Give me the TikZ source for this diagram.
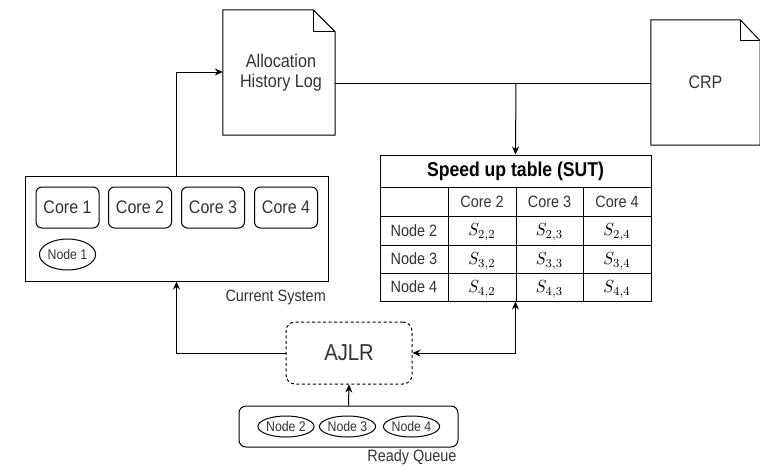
\documentclass[tikz,border=0pt]{standalone}
\usepackage{fontspec}
\setmainfont{Liberation Sans}[FakeStretch=0.88]
\usetikzlibrary{arrows.meta,shapes.geometric}
\definecolor{txt}{HTML}{333333}
\newcommand{\mysm}[1]{\scalebox{1.6}[1.75]{$#1$}}
\tikzset{
  ln/.style={line width=1pt, draw=black},
  arr/.style={ln, -{Stealth[length=8pt,width=7pt]}},
  darr/.style={ln, {Stealth[length=8pt,width=7pt]}-{Stealth[length=8pt,width=7pt]}},
  corebox/.style={ln, rounded corners=6pt, minimum width=63pt, minimum height=41pt, inner sep=0pt, text=txt, font=\fontsize{18.2}{20}\selectfont},
  ell/.style={ln, ellipse, inner sep=0pt, minimum height=21pt, text=txt, font=\fontsize{14}{16}\selectfont},
  lbl/.style={text=txt, inner sep=0pt, font=\fontsize{16.4}{18}\selectfont},
  cell/.style={text=txt, inner sep=0pt, font=\fontsize{16.4}{18}\selectfont},
  mcell/.style={text=black, inner sep=0pt, font=\fontsize{10}{12}\selectfont},
  plain/.style={inner sep=0pt, text=txt},
}
\begin{document}
\begin{tikzpicture}[x=1pt,y=-1pt]
\useasboundingbox (0,0) rectangle (760,466);

% Current System
\node[ln, minimum width=303pt, minimum height=105pt, inner sep=0pt] (cs) at (176.5,228.5) {};
\node[corebox] (c1) at (67.5,207.5) {Core 1};
\node[corebox] (c2) at (140,207.5) {Core 2};
\node[corebox] (c3) at (213,207.5) {Core 3};
\node[corebox] (c4) at (286,207.5) {Core 4};
\node[ell, minimum width=53pt, minimum height=31pt] (n1) at (67.5,254.5) {Node 1};
\node[lbl, anchor=east] (cslbl) at (326,297) {Current System};

% Allocation History Log
\node[plain, minimum width=112pt, minimum height=125pt] (log) at (279,72.5) {};
\draw[ln, line join=miter] (log.north west) -- ([xshift=-22pt]log.north east) -- ([yshift=-22pt]log.north east) -- (log.south east) -- (log.south west) -- cycle;
\draw[ln] ([xshift=-22pt]log.north east) -- ([xshift=-22pt,yshift=-22pt]log.north east) -- ([yshift=-22pt]log.north east);
\node[plain, align=center, font=\fontsize{18.4}{20}\selectfont] (logt) at (281,73) {Allocation\\History Log};

% CRP
\node[plain, minimum width=109pt, minimum height=125pt] (crp) at (705.5,82.5) {};
\draw[ln, line join=miter] (crp.north west) -- ([xshift=-20pt]crp.north east) -- ([yshift=-21pt]crp.north east) -- (crp.south east) -- (crp.south west) -- cycle;
\draw[ln] ([xshift=-20pt]crp.north east) -- ([xshift=-20pt,yshift=-21pt]crp.north east) -- ([yshift=-21pt]crp.north east);
\node[plain, font=\fontsize{18.2}{20}\selectfont] (crpt) at (705.5,82.5) {CRP};

% SUT table
\node[ln, minimum width=271pt, minimum height=146pt, inner sep=0pt] (sut) at (515.5,228) {};
\foreach \yy in {187,216,245,273} \draw[ln] (380,\yy) -- (651,\yy);
\foreach \xx in {448,516,583} \draw[ln] (\xx,187) -- (\xx,301);
\node[plain, text=black, font=\bfseries\fontsize{20}{22}\selectfont] (title) at (515.5,171) {Speed up table (SUT)};
\node[cell] (h2) at (482,201.5) {Core 2};
\node[cell] (h3) at (549.5,201.5) {Core 3};
\node[cell] (h4) at (617,201.5) {Core 4};
\node[cell] (r2) at (414,230.5) {Node 2};
\node[cell] (r3) at (414,259) {Node 3};
\node[cell] (r4) at (414,287) {Node 4};
\node[mcell] (s22) at (482,232) {\mysm{S_{2,2}}};
\node[mcell] (s23) at (549.5,232) {\mysm{S_{2,3}}};
\node[mcell] (s24) at (617,232) {\mysm{S_{2,4}}};
\node[mcell] (s32) at (482,261) {\mysm{S_{3,2}}};
\node[mcell] (s33) at (549.5,261) {\mysm{S_{3,3}}};
\node[mcell] (s34) at (617,261) {\mysm{S_{3,4}}};
\node[mcell] (s42) at (482,289) {\mysm{S_{4,2}}};
\node[mcell] (s43) at (549.5,289) {\mysm{S_{4,3}}};
\node[mcell] (s44) at (617,289) {\mysm{S_{4,4}}};

% AJLR
\node[ln, dashed, dash pattern=on 3pt off 2.5pt, rounded corners=9pt, minimum width=126pt, minimum height=62pt, inner sep=0pt, text=txt, font=\fontsize{23}{25}\selectfont] (ajlr) at (349,353) {AJLR};

% Ready Queue
\node[ln, rounded corners=7pt, minimum width=219pt, minimum height=41pt, inner sep=0pt] (rq) at (348.5,426.5) {};
\node[ell, minimum width=52pt] (n2) at (286,426.5) {Node 2};
\node[ell, minimum width=51pt] (n3) at (347.5,426.5) {Node 3};
\node[ell, minimum width=55pt] (n4) at (411.5,426.5) {Node 4};
\node[lbl] (rqlbl) at (412,457) {Ready Queue};

% connectors
\coordinate (j) at (516,83);
\coordinate (up) at (176,72);
\draw[ln] (log.east |- j) -- (crp.west |- j);
\draw[arr] (j) -- (sut.north);
\draw[arr] (cs.north) -- (cs.north |- up) -- (log.west |- up);
\draw[arr] (ajlr.west) -| (cs.south);
\draw[darr] (ajlr.east) -| (sut.south);
\draw[arr] (rq.north) -- (ajlr.south);
\end{tikzpicture}
\end{document}
